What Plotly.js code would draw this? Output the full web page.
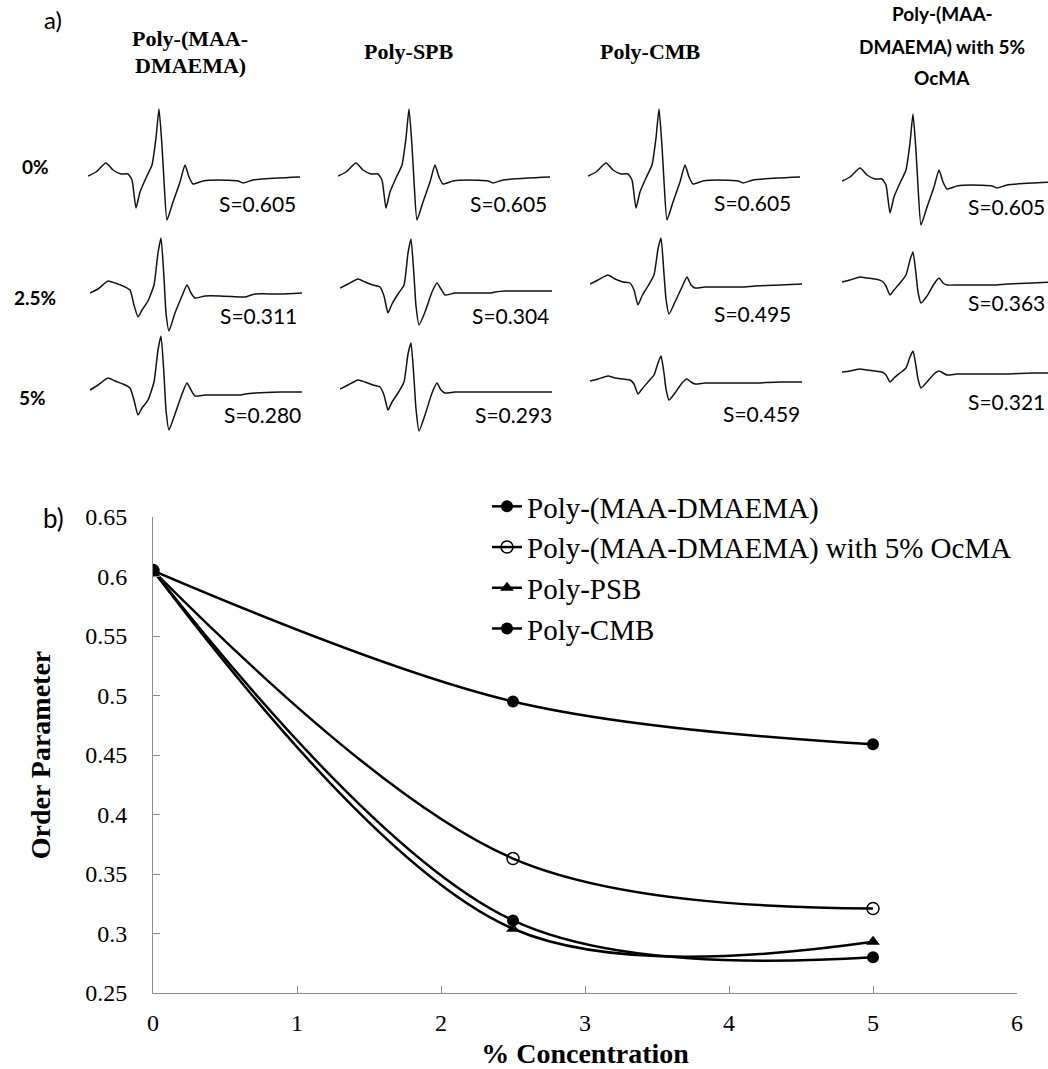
<!DOCTYPE html>
<html><head><meta charset="utf-8">
<script src="https://cdn.plot.ly/plotly-3.0.1.min.js"></script>
<style>html,body{margin:0;padding:0;background:#fff}#chart{width:1048px;height:1069px}</style>
</head><body><div id="chart"></div>
<script>
// ---------- Part b) data ----------
const concentration = [0, 2.5, 5];
const seriesNames = ["Poly-(MAA-DMAEMA)", "Poly-(MAA-DMAEMA) with 5% OcMA", "Poly-PSB", "Poly-CMB"];
const orderMAADMAEMA = [0.605, 0.311, 0.280];
const orderOcMA = [0.605, 0.363, 0.321];
const orderPSB = [0.605, 0.304, 0.293];
const orderCMB = [0.605, 0.495, 0.459];
const yTickVals = [0.25, 0.3, 0.35, 0.4, 0.45, 0.5, 0.55, 0.6, 0.65];
const yTickText = ["0.25", "0.3", "0.35", "0.4", "0.45", "0.5", "0.55", "0.6", "0.65"];
const xTickVals = [0, 1, 2, 3, 4, 5, 6];
const xTickText = ["0", "1", "2", "3", "4", "5", "6"];

// ---------- Part a) data (EPR spectra read from the picture) ----------
const columnTitles = [["Poly-(MAA-", "DMAEMA)"], ["Poly-SPB"], ["Poly-CMB"], ["Poly-(MAA-", "DMAEMA) with 5%", "OcMA"]];
const rowLabels = ["0%", "2.5%", "5%"];
const spectrumField = [0, 8, 18, 25, 33, 40, 44, 48, 52, 58, 64, 68, 71, 74, 76, 79, 85, 92, 97, 101, 105, 115, 130, 150, 155, 165, 190, 212];
const spec0 =        [0, 4, 13, 6, 2, 2, -4, -32, -16, -2, 11, 38, 67, 30, -5, -44, -26, -6, 11, -1, -8, -5, -4, -5, -7, -4, -2, -1];
const specMAA25 =    [0, 4, 12, 10, 7, 3, -12, -24, -17, -8, 8, 40, 55, 15, -20, -38, -20, -3, 8, 0, -5, -3, -3, -4, -4, -1, -1, 0];
const specMAA5 =     [0, 5, 12, 9, 6, 2, -10, -25, -18, -10, 8, 40, 54, 15, -20, -40, -24, -4, 7, 0, -6, -5, -5, -5, -4, -3, -2, -2];
const specSPB25 =    [0, 4, 9, 6, 3, 1, -8, -25, -16, -6, 3, 35, 49, 12, -18, -37, -24, -4, 5, -1, -7, -5, -5, -5, -4, -3, -3, -3];
const specSPB5 =     [0, 4, 9, 7, 4, 2, -6, -21, -13, -4, 7, 35, 46, 10, -20, -42, -26, -4, 6, -1, -4, -3, -3, -3, -3, -3, -3, -3];
const specCMB25 =    [0, 4, 9, 5, 2, 1, -6, -21, -12, -2, 9, 35, 46, 10, -15, -30, -18, -3, 7, -1, -4, -3, -3, -3, -3, -2, -1, 0];
const specCMB5 =     [0, 2, 5, 3, 2, 1, -3, -13, -8, -1, 6, 18, 25, 8, -8, -19, -12, -2, 2, -1, -3, -2, -2, -2, -2, -2, -1, -1];
const specOcMA25 =   [0, 2, 5, 4, 3, 1, -4, -13, -8, -1, 7, 22, 30, 8, -10, -21, -14, -2, 4, -1, -3, -3, -3, -3, -3, -2, -1, 0];
const specOcMA5 =    [0, 1, 3, 2, 1, 0, -3, -10, -6, -1, 4, 15, 21, 6, -7, -16, -10, -2, 1, -1, -3, -2, -2, -2, -2, -2, -1, -1];
const spectraGrid = [
  [spec0, specMAA25, specMAA5],
  [spec0, specSPB25, specSPB5],
  [spec0, specCMB25, specCMB5],
  [spec0, specOcMA25, specOcMA5]
];
const orderLabels = [
  ["S=0.605", "S=0.311", "S=0.280"],
  ["S=0.605", "S=0.304", "S=0.293"],
  ["S=0.605", "S=0.495", "S=0.459"],
  ["S=0.605", "S=0.363", "S=0.321"]
];

// ---------- layout geometry (pixels) ----------
const W = 1048, H = 1069;
const px = v => v / W;
const py = v => 1 - v / H;
const specStarts = [
  [[88, 176], [90, 293], [90, 390]],
  [[338, 176], [340, 288], [340, 389]],
  [[588, 176], [590, 284], [590, 381]],
  [[842, 181], [842, 282], [842, 372]]
];
const labelCenters = [
  [[257, 203], [258, 316], [262, 414]],
  [[508, 203], [510, 316], [513, 414]],
  [[752, 202], [752, 313], [761, 413]],
  [[1006, 206], [1006, 303], [1006, 401]]
];
const headerLines = [
  [[190, 38], [190, 65]],
  [[409, 52]],
  [[650, 52]],
  [[942, 14], [942, 46], [942, 77]]
];
const SANS = "Lato, Open Sans, sans-serif";
const SERIF = "Liberation Serif, Times New Roman, serif";

const traces = [];
const layout = {
  width: W, height: H,
  margin: {l: 0, r: 0, t: 0, b: 0},
  paper_bgcolor: "#fff", plot_bgcolor: "rgba(0,0,0,0)",
  showlegend: true,
  annotations: [],
  xaxis: {
    domain: [px(153), px(1017)], range: [0, 6], tickvals: xTickVals, ticktext: xTickText,
    showgrid: false, zeroline: false, showline: true, linecolor: "#8c8c8c", linewidth: 1,
    ticks: "inside", ticklen: 7, tickcolor: "#8c8c8c", ticklabelstandoff: 8,
    tickfont: {family: SERIF, size: 24, color: "#000"},
    title: {text: "<b>% Concentration</b>", font: {family: SERIF, size: 28, color: "#000"}, standoff: 19},
    anchor: "y", fixedrange: true
  },
  yaxis: {
    domain: [py(993), py(517)], range: [0.25, 0.65], tickvals: yTickVals, ticktext: yTickText,
    showgrid: false, zeroline: false, showline: true, linecolor: "#8c8c8c", linewidth: 1,
    ticks: "inside", ticklen: 7, tickcolor: "#8c8c8c", ticklabelstandoff: 20,
    tickfont: {family: SERIF, size: 24, color: "#000"},
    title: {text: "<b>Order Parameter</b>", font: {family: SERIF, size: 28, color: "#000"}, standoff: 26},
    anchor: "x", fixedrange: true
  },
  legend: {
    x: px(487), y: py(481), xanchor: "left", yanchor: "top",
    font: {family: SERIF, size: 29, color: "#000"},
    bgcolor: "rgba(0,0,0,0)", tracegroupgap: 0, itemwidth: 30
  }
};

// main chart traces
const seriesData = [orderMAADMAEMA, orderOcMA, orderPSB, orderCMB];
const seriesSymbols = ["circle", "circle-open", "triangle-up", "circle"];
seriesData.forEach((ys, i) => {
  traces.push({
    x: concentration, y: ys, name: seriesNames[i], type: "scatter", mode: "lines+markers",
    xaxis: "x", yaxis: "y",
    line: {color: "#000", width: 2.5, shape: "spline", smoothing: 1},
    marker: {symbol: seriesSymbols[i], size: 12, color: "#000",
             line: {color: "#000", width: seriesSymbols[i] === "circle-open" ? 1.5 : 0}}
  });
});

// spectra subplots
let k = 2;
spectraGrid.forEach((col, c) => {
  col.forEach((spec, r) => {
    const [sx, by] = specStarts[c][r];
    const x1 = Math.min(W, sx + 212);
    const xa = "xaxis" + k, ya = "yaxis" + k;
    layout[xa] = {domain: [px(sx), px(x1)], range: [0, x1 - sx], visible: false, anchor: "y" + k, fixedrange: true};
    layout[ya] = {domain: [py(by + 50), py(by - 75)], range: [-50, 75], visible: false, anchor: "x" + k, fixedrange: true};
    traces.push({
      x: spectrumField, y: spec, type: "scatter", mode: "lines", showlegend: false, hoverinfo: "skip",
      xaxis: "x" + k, yaxis: "y" + k,
      line: {color: "#111", width: 1.5, shape: "spline", smoothing: 0.5}
    });
    const [lx, ly] = labelCenters[c][r];
    layout.annotations.push({
      xref: "paper", yref: "paper", x: px(lx), y: py(ly), xanchor: "center", yanchor: "middle",
      text: orderLabels[c][r], showarrow: false, font: {family: SANS, size: 21, color: "#000"}
    });
    k++;
  });
});

// headers and labels
const ann = (x, y, text, font) => layout.annotations.push({
  xref: "paper", yref: "paper", x: px(x), y: py(y), xanchor: "center", yanchor: "middle",
  text: text, showarrow: false, font: font, align: "center"
});
const serifHead = {family: SERIF, size: 22, color: "#000"};
const sansHead = {family: SANS, size: 19, color: "#000"};
columnTitles.forEach((lines, c) => {
  lines.forEach((t, j) => {
    const [hx, hy] = headerLines[c][j];
    ann(hx, hy, "<b>" + t + "</b>", c === 3 ? sansHead : serifHead);
  });
});
ann(35, 167, "<b>" + rowLabels[0] + "</b>", {family: SANS, size: 19, color: "#000"});
ann(35, 297, "<b>" + rowLabels[1] + "</b>", {family: SANS, size: 19, color: "#000"});
ann(32, 397, "<b>" + rowLabels[2] + "</b>", {family: SANS, size: 19, color: "#000"});
ann(53, 20, "a)", {family: SANS, size: 24, color: "#000"});
ann(53, 518, "b)", {family: SANS, size: 26, color: "#000"});

Plotly.newPlot("chart", traces, layout, {staticPlot: true, displayModeBar: false});
</script>
</body></html>
